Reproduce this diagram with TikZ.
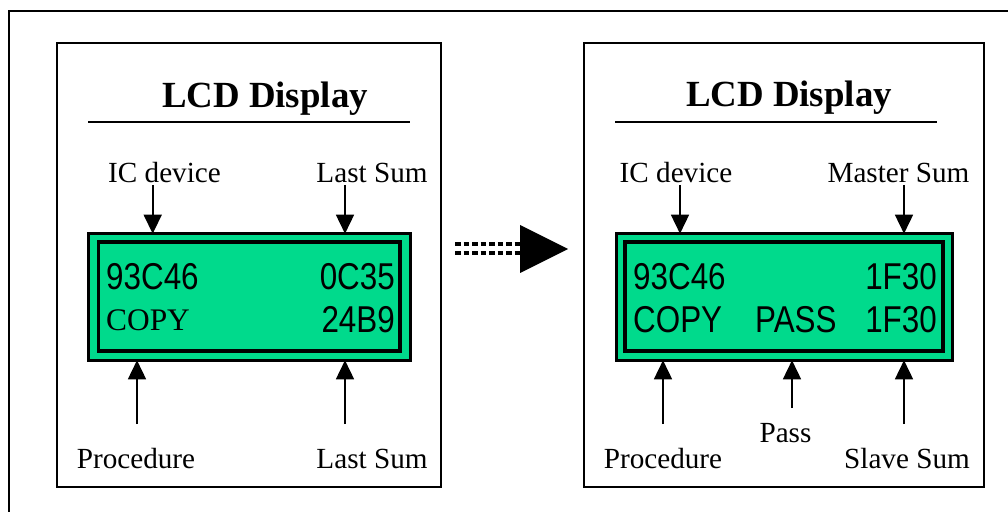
\documentclass[tikz,border=0pt]{standalone}
\usepackage{fontspec}
\setmainfont{Liberation Serif}
\newfontfamily\lcdfont[FakeStretch=0.84]{Liberation Sans}
\usetikzlibrary{arrows.meta}
\definecolor{lcdgreen}{RGB}{0,218,140}
\begin{document}
\begin{tikzpicture}[x=1bp,y=-1bp,
  panel/.style={draw=black,line width=1.5bp},
  lcdouter/.style={draw=black,fill=lcdgreen,line width=3.3bp},
  lcdinner/.style={draw=black,line width=3.3bp},
  lbl/.style={font=\fontsize{29.3}{31}\selectfont,anchor=base,inner sep=0pt},
  title/.style={font=\fontsize{37}{40}\selectfont\bfseries,anchor=base,inner sep=0pt},
  lcdtxt/.style={font=\lcdfont\fontsize{37.5}{40}\selectfont,inner sep=0pt},
  lcdserif/.style={font=\fontsize{31.5}{34}\selectfont,inner sep=0pt},
  arr/.style={line width=1.6bp,-{Triangle[width=18bp,length=19bp]}},
  rule/.style={line width=2bp}]
\useasboundingbox (0,0) rectangle (1008,512);
\clip (0,0) rectangle (1008,512);
% outer frame
\draw[line width=2bp] (9,11) rectangle (1030,530);
% panels
\draw[panel] (57,43) rectangle (441,487);
\draw[panel] (584,43) rectangle (984,487);
% ---------- left panel ----------
\node[title] (tL) at (265,108) {LCD Display};
\draw[rule] (88,122) -- (410,122);
\draw[lcdouter] (88.7,233.7) rectangle (410.5,360.3);
\draw[lcdinner] (98.5,242) rectangle (400,351);
\coordinate (lcdLtop) at (0,233.7);
\coordinate (lcdLbot) at (0,360.3);
\node[lcdtxt,anchor=base west] (l1a) at (106,290) {93C46};
\node[lcdtxt,anchor=base east] (l1b) at (395,290) {0C35};
\node[lcdserif,anchor=base west] (l2a) at (106,331) {COPY};
\node[lcdtxt,anchor=base east] (l2b) at (395,333) {24B9};
\node[lbl] (icL) at (164.5,183) {IC device};
\node[lbl] (lsL) at (372,183) {Last Sum};
\node[lbl] (prL) at (136,468) {Procedure};
\node[lbl] (lsbL) at (372,468) {Last Sum};
\coordinate (a1s) at (152.7,185);
\coordinate (a2s) at (345,185);
\coordinate (a3s) at (137,424);
\coordinate (a4s) at (345,424);
\draw[arr] (a1s) -- (a1s |- lcdLtop);
\draw[arr] (a2s) -- (a2s |- lcdLtop);
\draw[arr] (a3s) -- (a3s |- lcdLbot);
\draw[arr] (a4s) -- (a4s |- lcdLbot);
% ---------- middle arrow ----------
\coordinate (m1) at (455,244);
\coordinate (m2) at (455,253);
\draw[line width=4.3bp,dash pattern=on 5.5bp off 3bp] (m1) -- (522,244);
\draw[line width=4.3bp,dash pattern=on 5.5bp off 3bp] (m2) -- (522,253);
\fill[black] (520,225) -- (568,249) -- (520,273) -- cycle;
% ---------- right panel ----------
\node[title] (tR) at (789,107) {LCD Display};
\draw[rule] (615,122) -- (937,122);
\draw[lcdouter] (616.5,233.7) rectangle (952.5,360.3);
\draw[lcdinner] (625,242) rectangle (943,351);
\coordinate (lcdRtop) at (0,233.7);
\coordinate (lcdRbot) at (0,360.3);
\node[lcdtxt,anchor=base west] (r1a) at (633,290) {93C46};
\node[lcdtxt,anchor=base east] (r1b) at (937,290) {1F30};
\node[lcdtxt,anchor=base west] (r2a) at (633,333) {COPY};
\node[lcdtxt,anchor=base west] (r2b) at (755,333) {PASS};
\node[lcdtxt,anchor=base east] (r2c) at (937,333) {1F30};
\node[lbl] (icR) at (676,183) {IC device};
\node[lbl] (msR) at (898.5,183) {Master Sum};
\node[lbl] (prR) at (663,468) {Procedure};
\node[lbl] (paR) at (785.5,442) {Pass};
\node[lbl] (ssR) at (907,468) {Slave Sum};
\coordinate (b1s) at (680,185);
\coordinate (b2s) at (904,185);
\coordinate (b3s) at (663,424);
\coordinate (b4s) at (792,408);
\coordinate (b5s) at (904,424);
\draw[arr] (b1s) -- (b1s |- lcdRtop);
\draw[arr] (b2s) -- (b2s |- lcdRtop);
\draw[arr] (b3s) -- (b3s |- lcdRbot);
\draw[arr] (b4s) -- (b4s |- lcdRbot);
\draw[arr] (b5s) -- (b5s |- lcdRbot);
\end{tikzpicture}
\end{document}
